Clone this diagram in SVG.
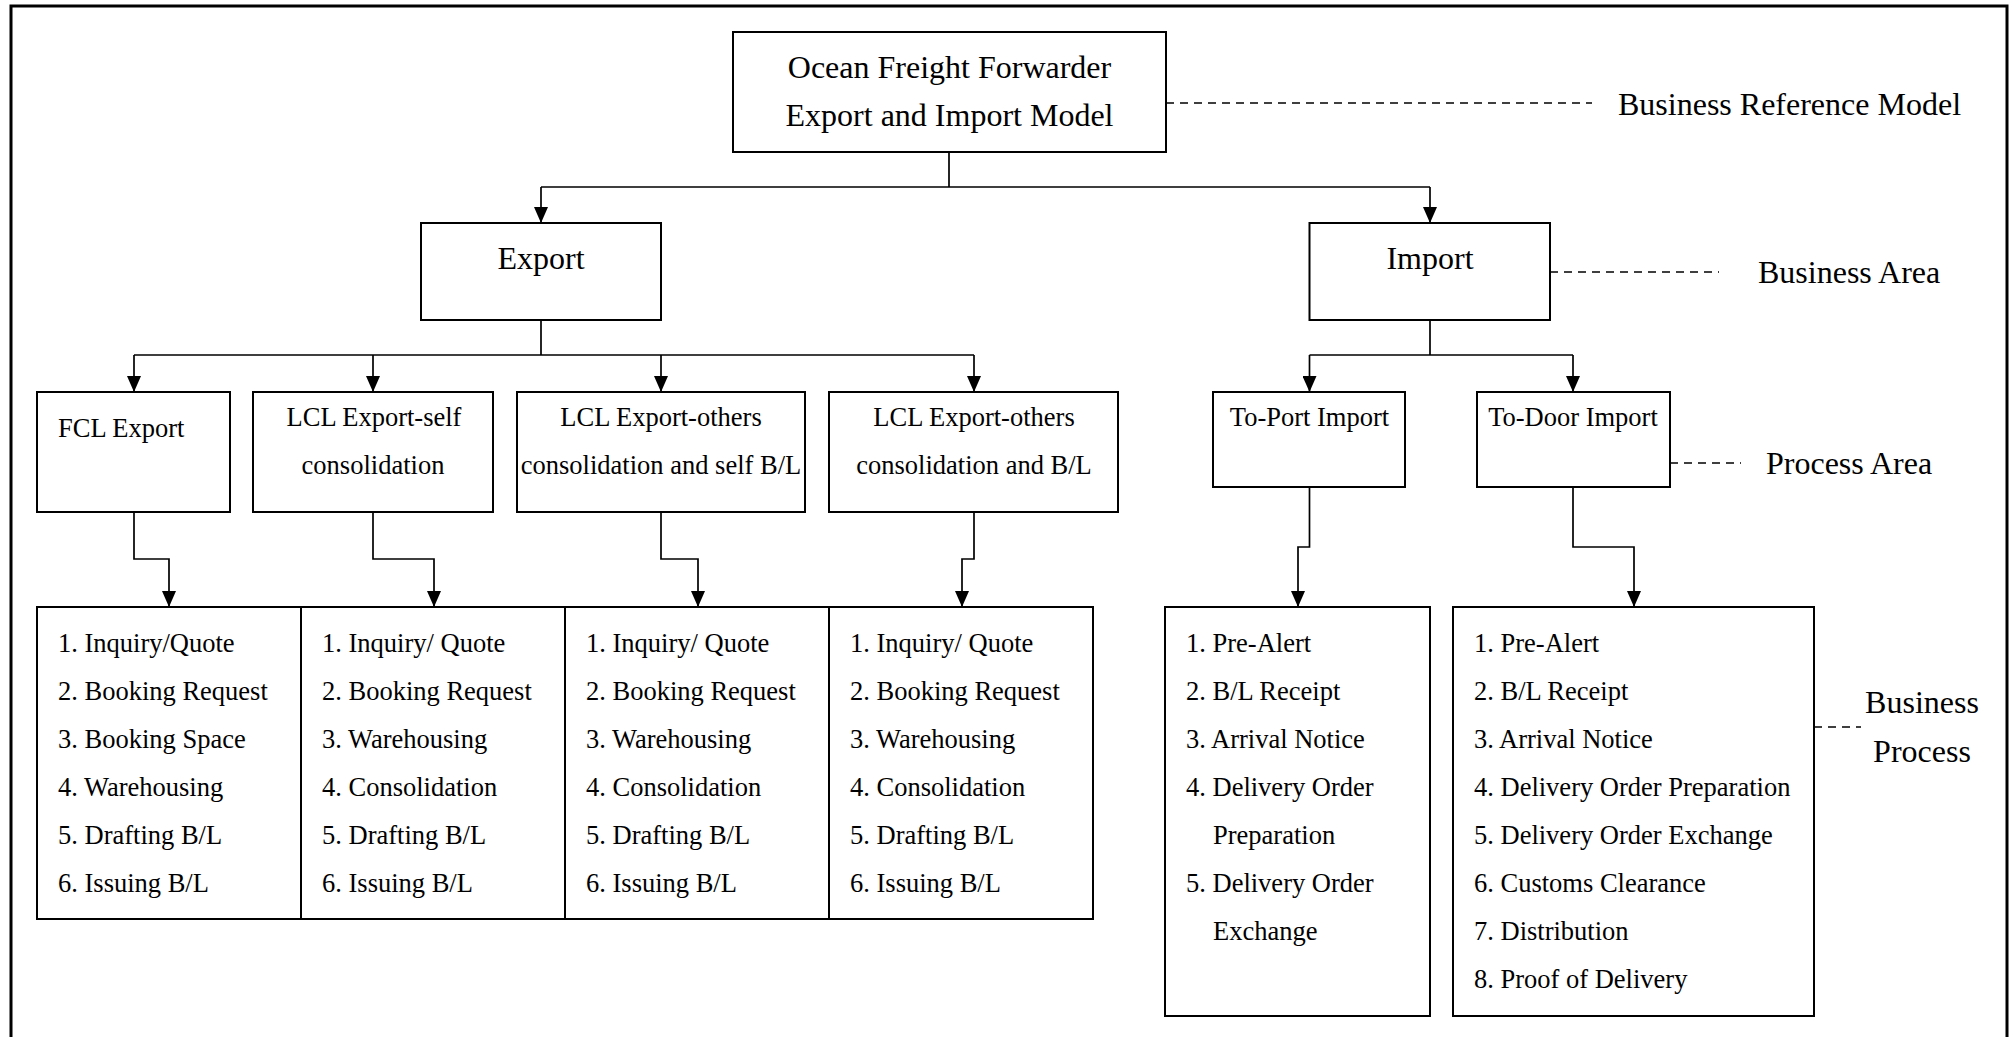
<svg xmlns="http://www.w3.org/2000/svg" width="2009" height="1037" viewBox="0 0 2009 1037">
<style>
  .box{fill:#fff;stroke:#000;stroke-width:2}
  .ln{fill:none;stroke:#000;stroke-width:1.7}
  .dash{fill:none;stroke:#000;stroke-width:1.6;stroke-dasharray:8 6}
  text{font-family:"Liberation Serif","Times New Roman",serif;fill:#000}
  .t32{font-size:32px}
  .t26{font-size:26.5px}
  .mid{text-anchor:middle}
</style>
<defs>
  <marker id="arr" markerUnits="userSpaceOnUse" viewBox="0 0 16 14" refX="16" refY="7" markerWidth="16" markerHeight="14" orient="auto">
    <path d="M0,0 L16,7 L0,14 z" fill="#000"/>
  </marker>
</defs>
<rect x="11" y="6" width="1996" height="1040" fill="none" stroke="#000" stroke-width="3"/>

<g id="connectors">
  <path class="ln" d="M949,152 V187 M541,187 H1430"/>
  <path class="ln" d="M541,187 V223" marker-end="url(#arr)"/>
  <path class="ln" d="M1430,187 V223" marker-end="url(#arr)"/>
  <path class="ln" d="M541,320 V355 M134,355 H974"/>
  <path class="ln" d="M134,355 V392" marker-end="url(#arr)"/>
  <path class="ln" d="M373,355 V392" marker-end="url(#arr)"/>
  <path class="ln" d="M661,355 V392" marker-end="url(#arr)"/>
  <path class="ln" d="M974,355 V392" marker-end="url(#arr)"/>
  <path class="ln" d="M1430,320 V355 M1309.5,355 H1573"/>
  <path class="ln" d="M1309.5,355 V392" marker-end="url(#arr)"/>
  <path class="ln" d="M1573,355 V392" marker-end="url(#arr)"/>
  <path class="ln" d="M134,512 V559 H169 V607" marker-end="url(#arr)"/>
  <path class="ln" d="M373,512 V559 H434 V607" marker-end="url(#arr)"/>
  <path class="ln" d="M661,512 V559 H698 V607" marker-end="url(#arr)"/>
  <path class="ln" d="M974,512 V559 H962 V607" marker-end="url(#arr)"/>
  <path class="ln" d="M1309.5,487 V547 H1298 V607" marker-end="url(#arr)"/>
  <path class="ln" d="M1573,487 V547 H1634 V607" marker-end="url(#arr)"/>
  <path class="dash" d="M1166,103 H1592"/>
  <path class="dash" d="M1550,272 H1719"/>
  <path class="dash" d="M1670,463 H1741"/>
  <path class="dash" d="M1814,727 H1861"/>
</g>

<g id="root">
  <rect class="box" x="733" y="32" width="433" height="120"/>
  <text class="t32 mid" x="949.5" y="78">Ocean Freight Forwarder</text>
  <text class="t32 mid" x="949.5" y="126">Export and Import Model</text>
</g>
<g id="export">
  <rect class="box" x="421" y="223" width="240" height="97"/>
  <text class="t32 mid" x="541" y="269">Export</text>
</g>
<g id="import">
  <rect class="box" x="1309.5" y="223" width="240.5" height="97"/>
  <text class="t32 mid" x="1430" y="269">Import</text>
</g>

<g id="fcl-export">
  <rect class="box" x="37" y="392" width="193" height="120"/>
  <text class="t26" x="58" y="437">FCL Export</text>
</g>
<g id="lcl-self">
  <rect class="box" x="253" y="392" width="240" height="120"/>
  <text class="t26 mid" x="374" y="426">LCL Export-self</text>
  <text class="t26 mid" x="373" y="474">consolidation</text>
</g>
<g id="lcl-others-self">
  <rect class="box" x="517" y="392" width="288" height="120"/>
  <text class="t26 mid" x="661" y="426">LCL Export-others</text>
  <text class="t26 mid" x="661" y="474">consolidation and self B/L</text>
</g>
<g id="lcl-others">
  <rect class="box" x="829" y="392" width="289" height="120"/>
  <text class="t26 mid" x="974" y="426">LCL Export-others</text>
  <text class="t26 mid" x="974" y="474">consolidation and B/L</text>
</g>
<g id="to-port">
  <rect class="box" x="1213" y="392" width="192" height="95"/>
  <text class="t26 mid" x="1309.5" y="426">To-Port Import</text>
</g>
<g id="to-door">
  <rect class="box" x="1477" y="392" width="193" height="95"/>
  <text class="t26 mid" x="1573" y="426">To-Door Import</text>
</g>

<g id="fcl-process">
  <rect class="box" x="37" y="607" width="264" height="312"/>
  <text class="t26" x="58" y="652">1. Inquiry/Quote</text>
  <text class="t26" x="58" y="700">2. Booking Request</text>
  <text class="t26" x="58" y="748">3. Booking Space</text>
  <text class="t26" x="58" y="796">4. Warehousing</text>
  <text class="t26" x="58" y="844">5. Drafting B/L</text>
  <text class="t26" x="58" y="892">6. Issuing B/L</text>
</g>
<g id="lcl-self-process">
  <rect class="box" x="301" y="607" width="264" height="312"/>
  <text class="t26" x="322" y="652">1. Inquiry/ Quote</text>
  <text class="t26" x="322" y="700">2. Booking Request</text>
  <text class="t26" x="322" y="748">3. Warehousing</text>
  <text class="t26" x="322" y="796">4. Consolidation</text>
  <text class="t26" x="322" y="844">5. Drafting B/L</text>
  <text class="t26" x="322" y="892">6. Issuing B/L</text>
</g>
<g id="lcl-others-self-process">
  <rect class="box" x="565" y="607" width="264" height="312"/>
  <text class="t26" x="586" y="652">1. Inquiry/ Quote</text>
  <text class="t26" x="586" y="700">2. Booking Request</text>
  <text class="t26" x="586" y="748">3. Warehousing</text>
  <text class="t26" x="586" y="796">4. Consolidation</text>
  <text class="t26" x="586" y="844">5. Drafting B/L</text>
  <text class="t26" x="586" y="892">6. Issuing B/L</text>
</g>
<g id="lcl-others-process">
  <rect class="box" x="829" y="607" width="264" height="312"/>
  <text class="t26" x="850" y="652">1. Inquiry/ Quote</text>
  <text class="t26" x="850" y="700">2. Booking Request</text>
  <text class="t26" x="850" y="748">3. Warehousing</text>
  <text class="t26" x="850" y="796">4. Consolidation</text>
  <text class="t26" x="850" y="844">5. Drafting B/L</text>
  <text class="t26" x="850" y="892">6. Issuing B/L</text>
</g>
<g id="to-port-process">
  <rect class="box" x="1165" y="607" width="265" height="409"/>
  <text class="t26" x="1186" y="652">1. Pre-Alert</text>
  <text class="t26" x="1186" y="700">2. B/L Receipt</text>
  <text class="t26" x="1186" y="748">3. Arrival Notice</text>
  <text class="t26" x="1186" y="796">4. Delivery Order</text>
  <text class="t26" x="1213" y="844">Preparation</text>
  <text class="t26" x="1186" y="892">5. Delivery Order</text>
  <text class="t26" x="1213" y="940">Exchange</text>
</g>
<g id="to-door-process">
  <rect class="box" x="1453" y="607" width="361" height="409"/>
  <text class="t26" x="1474" y="652">1. Pre-Alert</text>
  <text class="t26" x="1474" y="700">2. B/L Receipt</text>
  <text class="t26" x="1474" y="748">3. Arrival Notice</text>
  <text class="t26" x="1474" y="796">4. Delivery Order Preparation</text>
  <text class="t26" x="1474" y="844">5. Delivery Order Exchange</text>
  <text class="t26" x="1474" y="892">6. Customs Clearance</text>
  <text class="t26" x="1474" y="940">7. Distribution</text>
  <text class="t26" x="1474" y="988">8. Proof of Delivery</text>
</g>

<g id="labels">
  <text class="t32" x="1618" y="115">Business Reference Model</text>
  <text class="t32" x="1758" y="283">Business Area</text>
  <text class="t32" x="1766" y="474">Process Area</text>
  <text class="t32 mid" x="1922" y="713">Business</text>
  <text class="t32 mid" x="1922" y="762">Process</text>
</g>
</svg>
